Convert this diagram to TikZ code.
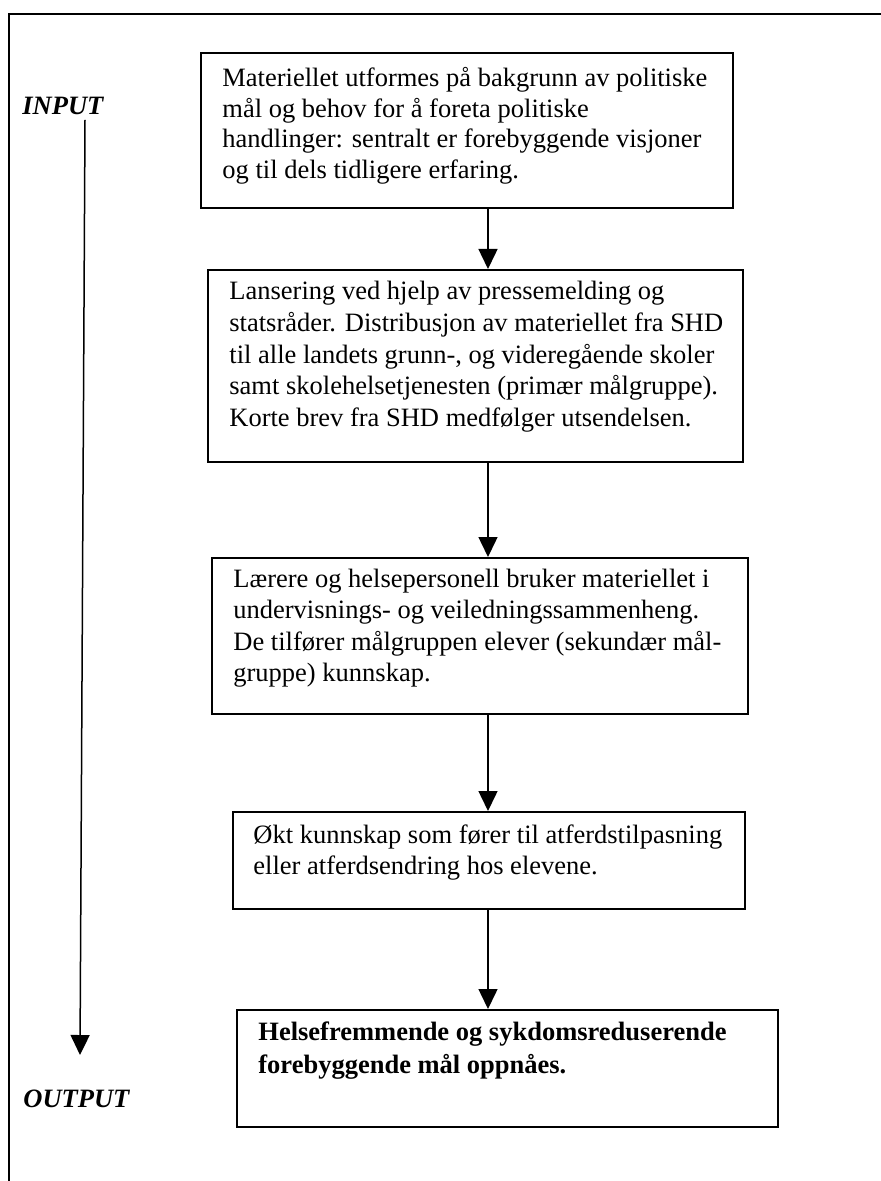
\documentclass[tikz,border=0pt]{standalone}
\usepackage{fontspec}
\setmainfont{Liberation Serif}
\usetikzlibrary{arrows.meta,fit}
\begin{document}
\begin{tikzpicture}[x=0.5pt,y=-0.5pt,
  boxst/.style={draw,line width=1pt,inner sep=0pt},
  txt/.style={inner sep=0pt,anchor=base west,align=left,font=\fontsize{13.25}{15.75}\selectfont},
  lbl/.style={inner sep=0pt,anchor=base west,font=\fontsize{13.25}{15.5}\selectfont\bfseries\itshape},
  arr/.style={line width=0.75pt,-{Triangle[width=9.5pt,length=10pt]}}]
\useasboundingbox (0,0) rectangle (880,1181);
% outer frame (open to the right and bottom)
\draw[line width=1pt] (9,1195) -- (9,14) -- (895,14);
% boxes
\node[boxst,fit={(201,53) (733,208)}] (b1) {};
\node[boxst,fit={(208,270) (743,462)}] (b2) {};
\node[boxst,fit={(212,558) (748,714)}] (b3) {};
\node[boxst,fit={(233,812) (745,909)}] (b4) {};
\node[boxst,fit={(237,1010) (778,1127)}] (b5) {};
% texts (anchored at the baseline of their last line)
\node[txt,font=\fontsize{13.25}{15.25}\selectfont] (t1) at (222,178.5) {Materiellet utformes på bakgrunn av politiske\\mål og behov for å foreta politiske\\handlinger: sentralt er forebyggende visjoner\\og til dels tidligere erfaring.};
\node[txt] (t2) at (229,426) {Lansering ved hjelp av pressemelding og\\statsråder. Distribusjon av materiellet fra SHD\\til alle landets grunn-, og videregående skoler\\samt skolehelsetjenesten (primær målgruppe).\\Korte brev fra SHD medfølger utsendelsen.};
\node[txt] (t3) at (233,681.5) {Lærere og helsepersonell bruker materiellet i\\undervisnings- og veiledningssammenheng.\\De tilfører målgruppen elever (sekundær mål-\\gruppe) kunnskap.};
\node[txt] (t4) at (253,874.5) {Økt kunnskap som fører til atferdstilpasning\\eller atferdsendring hos elevene.};
\node[txt,font=\fontsize{13.25}{16.5}\selectfont\bfseries] (t5) at (258,1073) {Helsefremmende og sykdomsreduserende\\forebyggende mål oppnåes.};
% side labels
\node[lbl] (inp) at (22,115) {INPUT};
\node[lbl] (outp) at (23,1107) {OUTPUT};
\coordinate (ls) at (85,120);
\coordinate (le) at (80,1055);
\draw[arr] (ls) -- (le);
% connectors
\coordinate (ax) at (488,0);
\draw[arr] (b1.south -| ax) -- (b2.north -| ax);
\draw[arr] (b2.south -| ax) -- (b3.north -| ax);
\draw[arr] (b3.south -| ax) -- (b4.north -| ax);
\draw[arr] (b4.south -| ax) -- (b5.north -| ax);
\end{tikzpicture}
\end{document}
